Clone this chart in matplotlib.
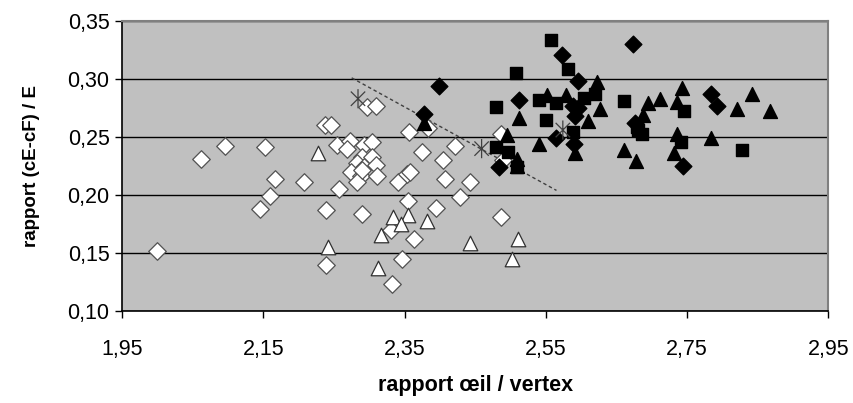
# Nuage de points : rapport œil / vertex vs rapport (cE-cF) / E
import matplotlib
matplotlib.use('Agg')
import matplotlib.pyplot as plt
from matplotlib.path import Path
from matplotlib.ticker import FuncFormatter

plt.rcParams['font.family'] = ['Liberation Sans', 'DejaVu Sans']

# losanges blancs
white_diamond_x = [2.000, 2.061, 2.095, 2.153, 2.166, 2.160, 2.145, 2.208, 2.237, 2.246,
                   2.254, 2.273, 2.239, 2.257, 2.278, 2.289, 2.238, 2.297, 2.310, 2.269,
                   2.293, 2.304, 2.290, 2.304, 2.282, 2.292, 2.309, 2.274, 2.288, 2.283,
                   2.311, 2.340, 2.354, 2.357, 2.356, 2.374, 2.404, 2.421, 2.407, 2.428,
                   2.443, 2.355, 2.395, 2.330, 2.363, 2.346, 2.332, 2.486, 2.489, 2.486,
                   2.383, 2.290]
white_diamond_y = [0.152, 0.231, 0.242, 0.241, 0.214, 0.199, 0.188, 0.211, 0.260, 0.260,
                   0.243, 0.247, 0.187, 0.205, 0.218, 0.184, 0.140, 0.276, 0.277, 0.240,
                   0.243, 0.246, 0.233, 0.233, 0.228, 0.224, 0.226, 0.220, 0.216, 0.211,
                   0.216, 0.211, 0.218, 0.220, 0.254, 0.237, 0.230, 0.242, 0.214, 0.198,
                   0.211, 0.195, 0.189, 0.170, 0.162, 0.145, 0.123, 0.253, 0.230, 0.181,
                   0.258, 0.222]

# triangles blancs
white_triangle_x = [2.228, 2.241, 2.333, 2.355, 2.345, 2.381, 2.316, 2.313, 2.442, 2.510, 2.502]
white_triangle_y = [0.236, 0.155, 0.181, 0.183, 0.175, 0.178, 0.166, 0.137, 0.159, 0.162, 0.145]

# losanges noirs
black_diamond_x = [2.378, 2.398, 2.573, 2.673, 2.596, 2.512, 2.589, 2.596, 2.591, 2.565,
                   2.590, 2.483, 2.676, 2.784, 2.792, 2.744]
black_diamond_y = [0.270, 0.294, 0.321, 0.330, 0.298, 0.282, 0.277, 0.275, 0.268, 0.249,
                   0.244, 0.224, 0.262, 0.287, 0.277, 0.225]

# carrés noirs
black_square_x = [2.557, 2.582, 2.508, 2.480, 2.540, 2.565, 2.604, 2.619, 2.660, 2.550,
                  2.589, 2.480, 2.496, 2.509, 2.681, 2.679, 2.686, 2.745, 2.742, 2.827]
black_square_y = [0.334, 0.309, 0.305, 0.276, 0.282, 0.279, 0.284, 0.287, 0.281, 0.265,
                  0.254, 0.241, 0.237, 0.224, 0.256, 0.259, 0.253, 0.272, 0.246, 0.239]

# triangles noirs
black_triangle_x = [2.378, 2.622, 2.512, 2.551, 2.578, 2.626, 2.609, 2.540, 2.591, 2.495,
                    2.509, 2.660, 2.677, 2.695, 2.711, 2.688, 2.743, 2.736, 2.842, 2.821,
                    2.868, 2.736, 2.784, 2.732, 2.509]
black_triangle_y = [0.262, 0.297, 0.266, 0.286, 0.286, 0.274, 0.264, 0.244, 0.236, 0.252,
                    0.231, 0.239, 0.229, 0.279, 0.283, 0.269, 0.292, 0.280, 0.287, 0.274,
                    0.272, 0.253, 0.249, 0.236, 0.225]

# étoiles (centres) et droite de séparation
star_x = [2.284, 2.459, 2.574]
star_y = [0.283, 0.240, 0.256]
line_x = [2.275, 2.565]
line_y = [0.301, 0.204]

x_ticks = [1.95, 2.15, 2.35, 2.55, 2.75, 2.95]
y_ticks = [0.10, 0.15, 0.20, 0.25, 0.30, 0.35]

# marqueur étoile façon Excel : une barre verticale + une croix
STAR = Path([(0, -1), (0, 1), (-0.75, -0.75), (0.75, 0.75), (-0.75, 0.75), (0.75, -0.75)],
            [Path.MOVETO, Path.LINETO, Path.MOVETO, Path.LINETO, Path.MOVETO, Path.LINETO])

comma = FuncFormatter(lambda v, pos: f"{v:.2f}".replace('.', ','))

fig = plt.figure(figsize=(8.54, 4.03), dpi=100)
ax = fig.add_axes([0.143, 0.228, 0.827, 0.720])
ax.set_facecolor('#C0C0C0')

# grille horizontale noire
ax.set_axisbelow(True)
ax.yaxis.grid(True, color='black', linewidth=1.0)

ax.plot(line_x, line_y, linestyle=(0, (2.5, 2)), color='#404040', linewidth=1.0, zorder=2)

ax.scatter(white_diamond_x, white_diamond_y, marker='D', s=80, facecolor='white',
           edgecolor='#505050', linewidth=0.9, zorder=3)
ax.scatter(white_triangle_x, white_triangle_y, marker='^', s=110, facecolor='white',
           edgecolor='#303030', linewidth=0.9, zorder=3)
ax.scatter(black_diamond_x, black_diamond_y, marker='D', s=72, color='black', zorder=4)
ax.scatter(black_square_x, black_square_y, marker='s', s=72, color='black', zorder=4)
ax.scatter(black_triangle_x, black_triangle_y, marker='^', s=100, color='black', zorder=4)
ax.scatter(star_x, star_y, marker=STAR, s=190, facecolor='none', edgecolor='#404040',
           linewidth=0.9, zorder=5)

ax.set_xlim(1.95, 2.95)
ax.set_ylim(0.10, 0.35)
ax.set_xticks(x_ticks)
ax.set_yticks(y_ticks)
ax.xaxis.set_major_formatter(comma)
ax.yaxis.set_major_formatter(comma)
ax.tick_params(axis='both', direction='out', length=5, width=1, color='black',
               labelsize=15.5, pad=4)
ax.tick_params(axis='x', pad=15)

for side in ['left', 'bottom']:
    ax.spines[side].set_color('black')
    ax.spines[side].set_linewidth(1.2)
for side in ['top', 'right']:
    ax.spines[side].set_color('#808080')
    ax.spines[side].set_linewidth(1.5)

ax.set_xlabel('rapport œil / vertex', fontsize=15.5, fontweight='bold', labelpad=11)
ax.set_ylabel('rapport (cE-cF) / E', fontsize=13.5, fontweight='bold', labelpad=20)

fig.savefig('out.png', dpi=100)
